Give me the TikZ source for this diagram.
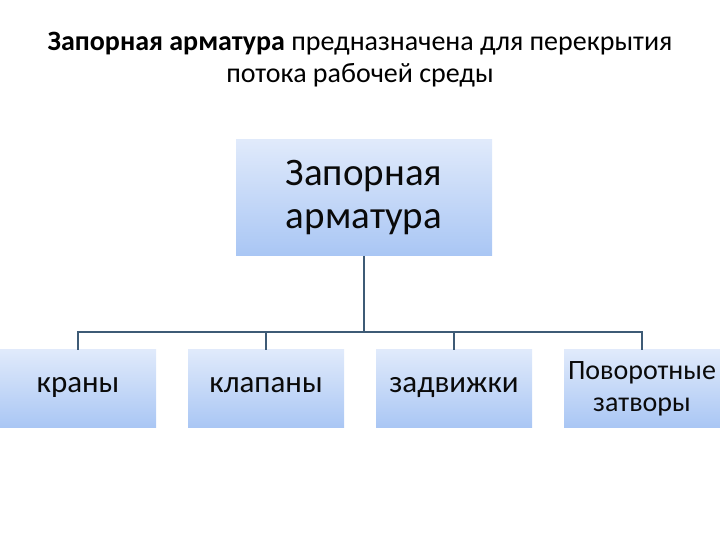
\documentclass[tikz,border=0pt]{standalone}
\usepackage{fontspec}
\setmainfont{Carlito}
\usepackage{tikz}
\definecolor{ZATop}{HTML}{E0EAFB}
\definecolor{ZABottom}{HTML}{A9C6F4}
\definecolor{ZALine}{HTML}{3E5B76}
\definecolor{ZAText}{HTML}{0A0A0A}

\tikzset{
  zabox/.style={rectangle,inner sep=0pt,align=center,text=ZAText,
    top color=ZATop,bottom color=ZABottom,shading angle=0},
  zaleaf/.style={zabox,minimum width=156pt,minimum height=78pt},
  zaword/.style={zaleaf,font=\fontsize{31}{36}\selectfont,text height=0.8em,text depth=0.155em},
  zaline/.style={ZALine,line width=1.6pt}
}

\begin{document}
\begin{tikzpicture}[x=1pt,y=1pt]
\path[use as bounding box] (0,0) rectangle (720,540);
% title
\node[align=center,font=\fontsize{28}{32}\selectfont] (title) at (360,480)
  {\textbf{Запорная арматура} предназначена для перекрытия\\потока рабочей среды};
% top box
\node[zabox,minimum width=256pt,minimum height=116pt,font=\fontsize{39}{43}\selectfont] (root) at (364,342)
  {Запорная\\арматура};
% lower boxes
\node[zaword] (krany) at (78,151) {краны};
\node[zaword] (klapany) at (266,151) {клапаны};
\node[zaword] (zadvizhki) at (454,151) {задвижки};
\node[zaleaf,font=\fontsize{28}{32}\selectfont] (zatvory) at (642,151) {Поворотные\\затворы};
% connectors
\coordinate (bus) at (364,208);
\draw[zaline] (root.south) -- (bus);
\draw[zaline] (bus) -| (krany.north);
\draw[zaline] (bus) -| (klapany.north);
\draw[zaline] (bus) -| (zadvizhki.north);
\draw[zaline] (bus) -| (zatvory.north);
\end{tikzpicture}
\end{document}
